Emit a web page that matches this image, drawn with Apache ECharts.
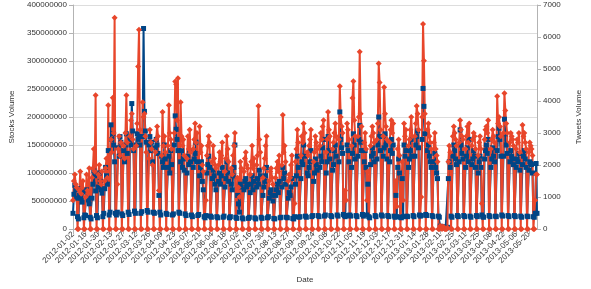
<!DOCTYPE html>
<html>
<head>
<meta charset="utf-8">
<script src="https://cdn.jsdelivr.net/npm/echarts@6/dist/echarts.min.js"></script>
<style>
  html, body { margin: 0; padding: 0; background: #fff; }
  #chart { width: 591px; height: 289px; }
</style>
</head>
<body>
<div id="chart"></div>
<script>
// daily data, one row per week (Mon..Sun), starting 2012-01-02
let startDate = '2012-01-02';
let endDate = '2013-05-29';

// stocks volume, in millions
let stocksWeeks = [
  [28, 62, 78, 70, 55, 22, 18],
  [60, 72, 55, 48, 66, 20, 25],
  [24, 70, 58, 52, 45, 21, 18],
  [55, 80, 104, 95, 68, 24, 20],
  [75, 100, 85, 70, 64, 22, 28],
  [72, 110, 95, 80, 140, 25, 30],
  [186, 160, 170, 150, 120, 28, 25],
  [30, 145, 130, 165, 155, 27, 24],
  [140, 120, 150, 170, 135, 30, 26],
  [160, 150, 224, 175, 140, 32, 28],
  [150, 170, 160, 165, 150, 28, 31],
  [165, 358, 210, 175, 155, 33, 30],
  [150, 165, 140, 155, 120, 30, 28],
  [145, 160, 150, 135, 60, 30, 25],
  [130, 120, 110, 150, 125, 28, 26],
  [110, 130, 100, 140, 115, 25, 27],
  [150, 202, 178, 160, 140, 30, 28],
  [120, 140, 110, 125, 105, 27, 24],
  [100, 130, 115, 140, 120, 25, 22],
  [110, 125, 135, 155, 120, 24, 26],
  [95, 110, 120, 85, 70, 22, 20],
  [24, 100, 115, 130, 110, 23, 21],
  [90, 105, 95, 80, 70, 22, 20],
  [85, 100, 80, 95, 110, 21, 23],
  [75, 90, 120, 100, 85, 20, 22],
  [80, 70, 95, 110, 150, 21, 19],
  [60, 45, 30, 80, 75, 20, 18],
  [70, 85, 90, 75, 80, 19, 21],
  [65, 80, 95, 70, 85, 20, 18],
  [75, 90, 80, 105, 95, 21, 19],
  [60, 75, 85, 95, 110, 20, 22],
  [55, 65, 70, 60, 50, 19, 18],
  [60, 70, 80, 65, 85, 20, 21],
  [75, 110, 90, 100, 80, 21, 20],
  [55, 65, 60, 75, 90, 19, 18],
  [22, 80, 95, 130, 110, 21, 22],
  [90, 120, 115, 150, 130, 23, 21],
  [100, 95, 110, 120, 140, 22, 24],
  [85, 100, 125, 115, 105, 24, 22],
  [110, 130, 120, 145, 160, 23, 25],
  [100, 120, 165, 140, 125, 24, 22],
  [105, 115, 140, 150, 130, 25, 23],
  [120, 209, 160, 145, 135, 26, 24],
  [22, 24, 150, 140, 120, 25, 23],
  [110, 135, 170, 150, 125, 24, 22],
  [130, 160, 185, 155, 140, 26, 23],
  [120, 140, 110, 25, 80, 22, 20],
  [115, 130, 145, 135, 120, 24, 22],
  [125, 150, 200, 165, 140, 25, 23],
  [130, 145, 170, 150, 125, 24, 22],
  [120, 140, 160, 135, 150, 23, 21],
  [60, 22, 110, 125, 100, 21, 20],
  [90, 22, 150, 130, 140, 23, 22],
  [110, 125, 140, 160, 130, 24, 22],
  [130, 150, 165, 175, 145, 25, 23],
  [24, 160, 251, 219, 170, 26, 24],
  [140, 150, 130, 120, 110, 24, 22],
  [120, 135, 110, 100, 90, 23, 21],
  [5, 3, 2, 4, 3, 2, 2],
  [2, 3, 90, 120, 110, 23, 21],
  [130, 150, 140, 125, 115, 24, 22],
  [120, 177, 150, 135, 125, 24, 22],
  [110, 130, 145, 120, 160, 23, 21],
  [115, 125, 140, 130, 110, 24, 22],
  [100, 120, 130, 110, 25, 22, 21],
  [125, 140, 150, 135, 160, 24, 22],
  [110, 125, 145, 130, 120, 23, 22],
  [140, 165, 180, 160, 130, 25, 23],
  [130, 196, 170, 150, 135, 24, 22],
  [120, 140, 130, 125, 115, 24, 22],
  [110, 125, 120, 135, 105, 23, 21],
  [115, 130, 140, 125, 110, 23, 22],
  [105, 120, 117, 115, 100, 22, 21],
  [28, 117, 28]
];

// tweets volume
let tweetsWeeks = [
  [900, 1500, 1700, 1400, 1300, 0, 0],
  [1200, 1800, 1100, 1300, 1500, 0, 0],
  [1000, 1700, 1200, 1100, 1900, 0, 0],
  [1600, 1900, 2500, 1800, 4180, 0, 0],
  [1700, 2000, 1500, 1400, 1800, 0, 0],
  [1500, 1900, 2200, 1600, 3870, 0, 0],
  [2800, 2400, 4100, 3000, 6600, 0, 0],
  [1400, 2500, 2900, 2300, 2700, 0, 0],
  [2600, 2200, 3000, 4180, 2700, 0, 0],
  [2900, 3400, 3600, 2800, 2500, 0, 0],
  [2600, 3300, 5080, 6230, 3100, 0, 0],
  [3960, 3500, 3600, 2900, 2400, 0, 0],
  [2200, 3100, 2700, 2500, 2000, 0, 0],
  [2400, 2800, 3200, 2900, 1200, 0, 0],
  [2300, 3660, 2600, 2900, 2400, 0, 0],
  [2600, 3870, 3000, 2800, 2500, 0, 0],
  [3000, 4610, 4520, 3400, 4710, 0, 0],
  [3960, 2900, 2600, 2800, 2300, 0, 0],
  [2200, 2900, 2500, 3100, 2400, 0, 0],
  [2500, 2800, 3300, 2700, 3000, 0, 0],
  [3200, 2400, 2600, 2000, 1800, 0, 0],
  [900, 2300, 2600, 2900, 2700, 0, 0],
  [2100, 2600, 2200, 2000, 1900, 0, 0],
  [2000, 2400, 2100, 2300, 2700, 0, 0],
  [1800, 2200, 2900, 2500, 2100, 0, 0],
  [1900, 1700, 2300, 2600, 3000, 0, 0],
  [1600, 1300, 1000, 2100, 1900, 0, 0],
  [1800, 2200, 2400, 2000, 1900, 0, 0],
  [1700, 2100, 2600, 1900, 2200, 0, 0],
  [2000, 2300, 3840, 2800, 2400, 0, 0],
  [1600, 1900, 2200, 2600, 2900, 0, 0],
  [1500, 1800, 1900, 1600, 1400, 0, 0],
  [1600, 1900, 2100, 1800, 2300, 0, 0],
  [2000, 3560, 2400, 2600, 2100, 0, 0],
  [1500, 1700, 1600, 2000, 2300, 0, 0],
  [800, 2100, 2500, 3100, 2700, 0, 0],
  [2300, 2900, 2700, 3300, 3000, 0, 0],
  [2400, 2300, 2600, 2800, 3100, 0, 0],
  [2100, 2400, 2900, 2700, 2500, 0, 0],
  [2600, 3000, 2800, 3200, 3400, 0, 0],
  [2400, 2800, 3660, 3100, 2900, 0, 0],
  [2500, 2700, 3000, 3300, 2900, 0, 0],
  [2800, 4460, 3500, 3200, 3000, 0, 0],
  [1200, 900, 3300, 3100, 2800, 0, 0],
  [2600, 4090, 4620, 3400, 2900, 0, 0],
  [2900, 3500, 5540, 3600, 3200, 0, 0],
  [2700, 3000, 2500, 900, 1800, 0, 0],
  [2600, 2900, 3200, 3000, 2700, 0, 0],
  [2800, 3300, 5170, 4580, 3100, 0, 0],
  [2900, 4430, 3600, 3200, 2800, 0, 0],
  [2700, 3100, 3400, 3000, 3300, 0, 0],
  [1500, 700, 2500, 2800, 2300, 0, 0],
  [2100, 900, 3300, 2900, 3100, 0, 0],
  [2600, 2800, 3100, 3500, 2900, 0, 0],
  [2900, 3300, 3840, 3600, 3100, 0, 0],
  [1000, 3500, 6410, 5260, 3600, 0, 0],
  [3100, 3300, 2900, 2700, 2500, 0, 0],
  [2700, 3000, 2500, 2300, 2100, 0, 0],
  [100, 50, 0, 80, 60, 0, 0],
  [0, 50, 2100, 2600, 2400, 0, 0],
  [2900, 3200, 3000, 2800, 2600, 0, 0],
  [2700, 3400, 3100, 2900, 2800, 0, 0],
  [2500, 2900, 3200, 2700, 3300, 0, 0],
  [2600, 2800, 3000, 2900, 2500, 0, 0],
  [2300, 2700, 2900, 2500, 800, 0, 0],
  [2800, 3100, 3200, 3000, 3400, 0, 0],
  [2500, 2800, 3100, 2900, 2700, 0, 0],
  [4150, 3300, 3500, 3200, 2900, 0, 0],
  [3000, 4240, 3700, 3300, 3000, 0, 0],
  [2700, 3000, 2900, 2800, 2600, 0, 0],
  [2500, 2800, 2700, 3000, 2400, 0, 0],
  [3250, 2900, 3000, 2700, 2500, 0, 0],
  [2400, 2700, 2600, 2500, 2300, 0, 0],
  [900, 1700, 1700]
];

let stocksVolume = stocksWeeks.flat().map(v => v * 1000000);
let tweetsVolume = tweetsWeeks.flat();

// category labels: every day from startDate to endDate
let dates = [];
let d = new Date(startDate + 'T00:00:00Z');
let last = new Date(endDate + 'T00:00:00Z');
while (d <= last) {
  dates.push(d.toISOString().slice(0, 10));
  d.setUTCDate(d.getUTCDate() + 1);
}

let labelFont = 'Liberation Sans';
let textColor = '#333333';
let axisColor = '#b3b3b3';
let blue = '#004586';
let red = '#e8462b';

let myChart = echarts.init(document.getElementById('chart'), null, { renderer: 'canvas' });

let option = {
  animation: false,
  color: [blue, red],
  textStyle: { fontFamily: labelFont },
  grid: { left: 70, right: 50, top: 5, bottom: 58 },
  xAxis: {
    type: 'category',
    boundaryGap: false,
    data: dates,
    name: 'Date',
    nameLocation: 'middle',
    nameGap: 47,
    nameTextStyle: { fontSize: 8, color: textColor, fontFamily: labelFont },
    axisLine: { lineStyle: { color: axisColor } },
    axisTick: { show: true, interval: function (i) { return i % 14 === 0; }, lineStyle: { color: axisColor } },
    axisLabel: {
      interval: function (i) { return i % 14 === 0; },
      rotate: 45,
      fontSize: 8,
      color: textColor,
      fontFamily: labelFont,
      margin: 4
    },
    splitLine: { show: false }
  },
  yAxis: [
    {
      type: 'value',
      min: 0,
      max: 400000000,
      interval: 50000000,
      name: 'Stocks Volume',
      nameLocation: 'middle',
      nameRotate: 90,
      nameGap: 57,
      nameTextStyle: { fontSize: 8, color: textColor, fontFamily: labelFont },
      axisLine: { show: true, lineStyle: { color: axisColor } },
      axisTick: { show: true, length: 4, lineStyle: { color: axisColor } },
      axisLabel: {
        fontSize: 8, color: textColor, fontFamily: labelFont, margin: 6,
        formatter: function (v) { return String(v); }
      },
      splitLine: { lineStyle: { color: '#dddddd' } }
    },
    {
      type: 'value',
      min: 0,
      max: 7000,
      interval: 1000,
      name: 'Tweets Volume',
      nameLocation: 'middle',
      nameRotate: 90,
      nameGap: 38,
      nameTextStyle: { fontSize: 8, color: textColor, fontFamily: labelFont },
      axisLine: { show: true, lineStyle: { color: axisColor } },
      axisTick: { show: true, length: 4, lineStyle: { color: axisColor } },
      axisLabel: {
        fontSize: 8, color: textColor, fontFamily: labelFont, margin: 6,
        formatter: function (v) { return String(v); }
      },
      splitLine: { show: false }
    }
  ],
  series: [
    {
      name: 'Stocks Volume',
      type: 'line',
      yAxisIndex: 0,
      data: stocksVolume,
      symbol: 'rect',
      symbolSize: 5,
      showAllSymbol: true,
      lineStyle: { width: 2 },
      itemStyle: { color: blue }
    },
    {
      name: 'Tweets Volume',
      type: 'line',
      yAxisIndex: 1,
      data: tweetsVolume,
      symbol: 'diamond',
      symbolSize: 6,
      showAllSymbol: true,
      lineStyle: { width: 2 },
      itemStyle: { color: red }
    }
  ]
};

myChart.setOption(option);
window.addEventListener('resize', function () {
  myChart.resize();
});
</script>
</body>
</html>
